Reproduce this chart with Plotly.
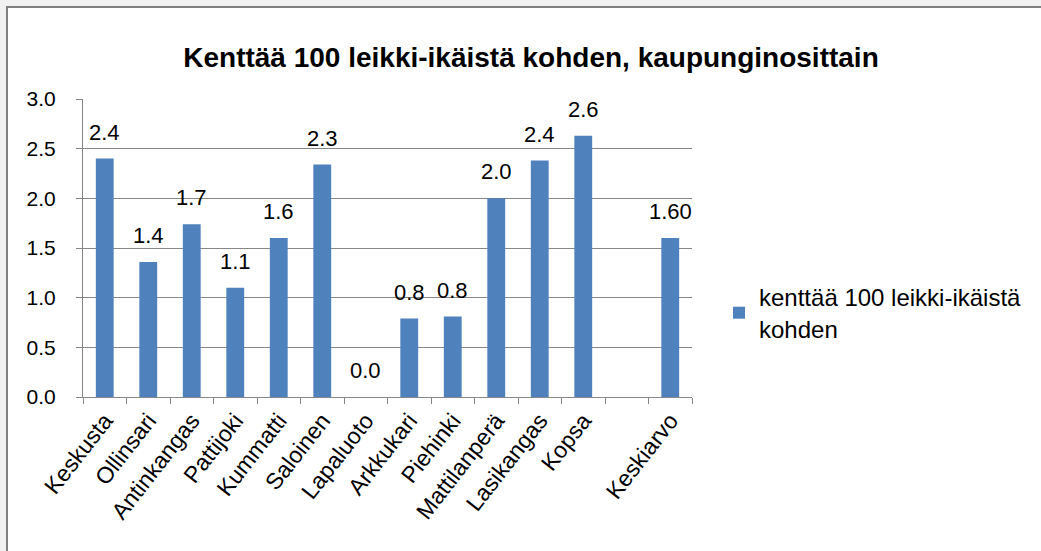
import plotly.graph_objects as go

# ---- data ----
categories = ["Keskusta", "Ollinsari", "Antinkangas", "Pattijoki", "Kummatti", "Saloinen",
              "Lapaluoto", "Arkkukari", "Piehinki", "Mattilanperä", "Lasikangas", "Kopsa",
              " ", "Keskiarvo"]
values = [2.40, 1.36, 1.74, 1.10, 1.60, 2.34, 0.0, 0.79, 0.81, 2.00, 2.38, 2.63, None, 1.60]
label_decimals = [1, 1, 1, 1, 1, 1, 1, 1, 1, 1, 1, 1, 1, 2]
series_name = "kenttää 100 leikki-ikäistä<br>kohden"
title_text = "Kenttää 100 leikki-ikäistä kohden, kaupunginosittain"
y_ticks = [0.0, 0.5, 1.0, 1.5, 2.0, 2.5, 3.0]

W, H = 1041, 551
ML, MR, MT, MB = 83, 349, 99, 154
pw, ph = W - ML - MR, H - MT - MB

FONT = "Liberation Sans, Arial, sans-serif"
BAR = "#4F81BD"
GRID = "#878787"

fig = go.Figure(go.Bar(
    x=categories, y=values, name=series_name,
    marker=dict(color=BAR, line=dict(width=0)),
    showlegend=True, hoverinfo="x+y",
))

# data labels placed above bars (Excel-style gap)
label_annotations = []
for cat, v, d in zip(categories, values, label_decimals):
    if v is None:
        continue
    label_annotations.append(dict(
        x=cat, y=v, xref="x", yref="y", text=f"{v:.{d}f}",
        showarrow=False, xanchor="center", yanchor="bottom", yshift=12,
        font=dict(family=FONT, size=22, color="#000000"),
    ))

def px_to_paper_x(px):
    return (px - ML) / pw

def px_to_paper_y(py):
    return (H - MB - py) / ph

fig.update_layout(
    width=W, height=H,
    margin=dict(l=ML, r=MR, t=MT, b=MB, autoexpand=False),
    paper_bgcolor="#f1f1f1",
    plot_bgcolor="rgba(0,0,0,0)",
    bargap=0.59,
    annotations=label_annotations,
    title=dict(text=f"<b>{title_text}</b>", x=531 / W, xanchor="center",
               y=1 - 57 / H, yanchor="middle",
               font=dict(family=FONT, size=28, color="#000000")),
    legend=dict(x=px_to_paper_x(719), xanchor="left", y=px_to_paper_y(313), yanchor="middle",
                font=dict(family=FONT, size=24, color="#000000"),
                bgcolor="rgba(0,0,0,0)", itemsizing="constant"),
    shapes=[dict(type="rect", xref="paper", yref="paper",
                 x0=px_to_paper_x(7), x1=px_to_paper_x(W + 20),
                 y0=px_to_paper_y(H + 20), y1=px_to_paper_y(7),
                 fillcolor="#ffffff", line=dict(color="#7f7f7f", width=2), layer="below")],
    xaxis=dict(
        type="category", categoryorder="array", categoryarray=categories,
        tickangle=-52, tickfont=dict(family=FONT, size=23, color="#000000"),
        ticks="outside", tickson="boundaries", ticklen=6, tickcolor=GRID,
        showline=True, linecolor=GRID, linewidth=1, showgrid=False,
        range=[-0.5, len(categories) - 0.5],
    ),
    yaxis=dict(
        range=[0, 3.0], tickvals=y_ticks, ticktext=[f"{t:.1f}" for t in y_ticks],
        tickfont=dict(family=FONT, size=21, color="#000000"),
        ticks="outside", ticklen=6, tickcolor=GRID, ticklabelstandoff=16,
        showline=True, linecolor=GRID, linewidth=1,
        showgrid=True, gridcolor=GRID, gridwidth=1, zeroline=False,
    ),
)

fig.write_html("out.html", config={"displayModeBar": False},
               post_script="document.body.style.margin='0';document.body.style.overflow='hidden';")
